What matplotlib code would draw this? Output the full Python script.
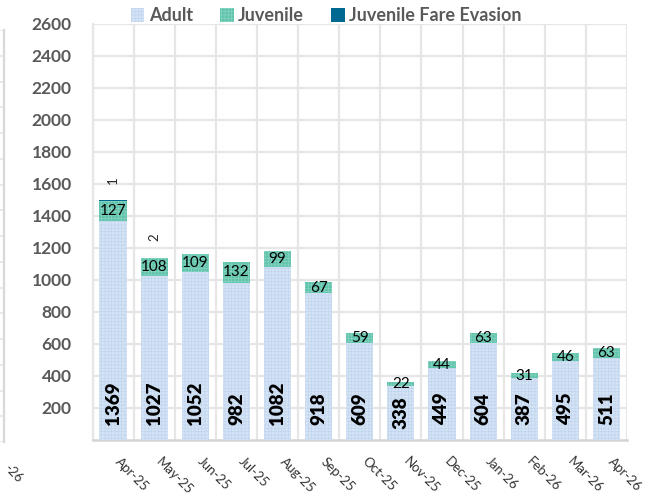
import matplotlib
matplotlib.use("Agg")
import matplotlib.pyplot as plt
import numpy as np

months = ["Apr-25", "May-25", "Jun-25", "Jul-25", "Aug-25", "Sep-25", "Oct-25",
          "Nov-25", "Dec-25", "Jan-26", "Feb-26", "Mar-26", "Apr-26"]
adult = [1369, 1027, 1052, 982, 1082, 918, 609, 338, 449, 604, 387, 495, 511]
juvenile = [127, 108, 109, 132, 99, 67, 59, 22, 44, 63, 31, 46, 63]
fare_evasion = [1, 2, 0, 0, 0, 0, 0, 0, 0, 0, 0, 0, 0]
yticks = [200, 400, 600, 800, 1000, 1200, 1400, 1600, 1800, 2000, 2200, 2400, 2600]

plt.rcParams['font.family'] = ['Lato', 'DejaVu Sans']
plt.rcParams['hatch.linewidth'] = 0.35

fig = plt.figure(figsize=(6.7, 4.97), dpi=100)
ax = fig.add_axes([92.5/670, 1-440/497, (627-92.5)/670, (440-24)/497])

x = np.arange(len(months))
w = 0.66
adult_c = "#d3e3f5"
juv_c = "#62c4ac"
jfe_c = "#006991"

plt.rcParams['hatch.color'] = "#bcd2ec"
b1 = ax.bar(x, adult, w, color=adult_c, hatch='+++++', edgecolor="#bcd2ec", linewidth=0, label="Adult", zorder=3)
b2 = ax.bar(x, juvenile, w, bottom=adult, color=juv_c, hatch='+++++', edgecolor="#8fd8c6", linewidth=0, label="Juvenile", zorder=3)
bot2 = np.array(adult) + np.array(juvenile)
b3 = ax.bar(x, fare_evasion, w, bottom=bot2, color=jfe_c, linewidth=0, label="Juvenile Fare Evasion", zorder=3)
for p in b2:
    if hasattr(p, "set_hatch_color"):
        p.set_hatch_color("#8fd8c6")
for p in b1:
    if hasattr(p, "set_hatch_color"):
        p.set_hatch_color("#bcd2ec")

ax.set_xlim(-0.5, len(months) - 0.5)
ax.set_ylim(0, 2600)
ax.set_yticks(yticks)
ax.set_yticklabels([str(v) for v in yticks], fontsize=12.5, fontweight='bold', color="#595959")
ax.set_xticks(x)
ax.set_xticklabels(months, rotation=-45, ha='left', va='top', rotation_mode='default',
                   fontsize=9.5, color="#333333")
ax.tick_params(axis='x', length=0, pad=11)
ax.tick_params(axis='y', length=0, pad=15)
ax.set_xticks(np.arange(len(months) + 1) - 0.5, minor=True)
ax.tick_params(axis='x', which='minor', length=0)
ax.grid(axis='y', which='major', color="#e6e6e6", linewidth=1.6, zorder=0)
ax.grid(axis='x', which='minor', color="#e6e6e6", linewidth=1.6, zorder=0)
ax.set_axisbelow(True)
for s in ['top', 'right']:
    ax.spines[s].set_visible(False)
ax.spines['left'].set_color("#e6e6e6")
ax.spines['left'].set_linewidth(1.6)
ax.spines['bottom'].set_color("#d4d4d4")
ax.spines['bottom'].set_linewidth(1.8)

# adult labels (inside base)
for xi, v in zip(x, adult):
    if v < 360:
        ax.text(xi, v / 2, str(v), rotation=90, ha='center', va='center',
                fontsize=13.5, fontweight='heavy', color="black", zorder=5)
    else:
        ax.annotate(str(v), (xi, 0), xytext=(0, 11), textcoords='offset points',
                    rotation=90, ha='center', va='bottom', fontsize=13.5,
                    fontweight='heavy', color="black", zorder=5)

# juvenile labels (center)
for xi, a, j in zip(x, adult, juvenile):
    ax.text(xi, a + j / 2, str(j), ha='center', va='center', fontsize=11,
            color="black", zorder=5)

# fare evasion labels
for xi, b, f in zip(x, bot2, fare_evasion):
    if f:
        ax.annotate(str(f), (xi, b + f), xytext=(0, 15), textcoords='offset points',
                    rotation=90, ha='center', va='center', fontsize=9.5, color="#262626", zorder=5)

leg = fig.legend(handles=[b1, b2, b3], loc='upper center', bbox_to_anchor=(0.487, 1.018),
                 ncol=3, frameon=False, handlelength=0.75, handleheight=0.75,
                 handletextpad=0.25, columnspacing=1.5,
                 prop={'family': ['Lato', 'DejaVu Sans'], 'weight': 'bold', 'size': 13})
for t in leg.get_texts():
    t.set_color("#595959")

# remnant of neighbouring chart at the left edge
ax2 = fig.add_axes([-0.05, 1-442/497, 0.05 + 4/670, (442-30)/497])
ax2.set_xlim(0, 1)
ax2.set_ylim(0, 16)
ax2.set_yticks(np.arange(0, 17))
ax2.set_xticks([])
ax2.tick_params(axis='y', length=0, labelleft=False)
ax2.grid(axis='y', color="#e6e6e6", linewidth=1.2)
for s in ['top', 'left', 'bottom']:
    ax2.spines[s].set_visible(False)
ax2.spines['right'].set_color("#d9d9d9")
ax2.spines['right'].set_linewidth(1.6)
ax2.patch.set_visible(False)
fig.text(2/670, 1-462/497, "-26", rotation=-45, ha='left', va='top',
         fontsize=9.5, color="#333333")

fig.savefig("out.png", dpi=100)
